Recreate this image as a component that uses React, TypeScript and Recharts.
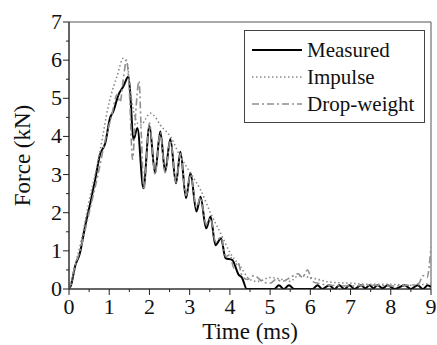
import { LineChart, Line, XAxis, YAxis, ReferenceArea } from "recharts";

// time (ms) / force (kN)
const measuredT = [0, 0.05, 0.15, 0.27, 0.4, 0.52, 0.65, 0.77, 0.9, 1.02, 1.1, 1.23, 1.35, 1.48, 1.53, 1.6, 1.7, 1.85, 2.0, 2.14, 2.27, 2.39, 2.52, 2.66, 2.77, 2.91, 3.02, 3.17, 3.27, 3.41, 3.52, 3.64, 3.78, 3.89, 4.06, 4.22, 4.3, 4.42, 4.8, 5.1, 5.22, 5.34, 5.47, 5.6, 6.05, 6.18, 6.3, 6.47, 6.6, 6.72, 6.85, 6.97, 7.1, 7.26, 7.37, 7.47, 7.57, 7.67, 7.8, 7.92, 8.1, 8.34, 8.5, 8.67, 8.8, 8.92, 9.0];
const measuredF = [0, 0.1, 0.59, 0.94, 1.64, 2.2, 2.86, 3.52, 3.82, 4.48, 4.65, 5.09, 5.31, 5.57, 5.0, 3.91, 4.22, 2.64, 4.28, 3.04, 4.13, 3.08, 3.93, 2.77, 3.6, 2.38, 3.04, 2.03, 2.42, 1.59, 1.9, 1.15, 1.33, 0.81, 0.76, 0.37, 0.3, 0, 0, 0, 0.1, 0, 0.1, 0, 0, 0.1, 0, 0.1, 0, 0.1, 0, 0.1, 0, 0.1, 0.02, 0.1, 0.02, 0.1, 0.02, 0.1, 0, 0.1, 0, 0.1, 0, 0.1, 0.05];

const impulseT = [0.03, 0.15, 0.3, 0.5, 0.75, 1.0, 1.2, 1.35, 1.45, 1.52, 1.6, 1.7, 1.8, 1.9, 2.02, 2.15, 2.27, 2.52, 2.77, 3.02, 3.27, 3.52, 3.77, 4.01, 4.26, 4.51, 4.7, 5.0, 5.3, 5.5, 5.7, 6.0, 6.5, 7.0, 7.5, 8.0, 8.5, 8.8, 9.0];
const impulseF = [0, 0.6, 1.25, 2.3, 3.5, 4.9, 5.6, 6.05, 5.9, 5.22, 4.7, 4.35, 4.3, 4.45, 4.61, 4.5, 4.3, 4.0, 3.47, 3.04, 2.6, 1.99, 1.46, 0.94, 0.59, 0.24, 0.2, 0.3, 0.25, 0.2, 0.35, 0.3, 0.18, 0.15, 0.12, 0.12, 0.1, 0.12, 0.15];

const dropT = [0, 0.15, 0.3, 0.5, 0.7, 0.9, 1.05, 1.2, 1.27, 1.35, 1.43, 1.5, 1.58, 1.65, 1.74, 1.8, 1.86, 2.0, 2.14, 2.27, 2.39, 2.52, 2.66, 2.77, 2.91, 3.02, 3.17, 3.27, 3.41, 3.52, 3.64, 3.78, 3.9, 4.0, 4.1, 4.2, 4.3, 4.43, 4.6, 4.8, 5.0, 5.15, 5.3, 5.5, 5.7, 5.8, 5.93, 6.05, 6.2, 6.5, 7.0, 7.5, 8.0, 8.5, 8.7, 8.8, 8.9, 9.0];
const dropF = [0, 0.6, 1.1, 2.0, 2.9, 3.9, 4.5, 5.1, 4.9, 5.5, 6.0, 5.2, 3.4, 4.5, 5.45, 4.0, 2.6, 4.35, 3.0, 4.1, 3.05, 3.9, 2.8, 3.55, 2.45, 3.0, 2.15, 2.4, 1.7, 1.85, 1.25, 1.35, 0.85, 0.9, 0.55, 0.7, 0.35, 0.25, 0.35, 0.2, 0.15, 0.25, 0.2, 0.3, 0.4, 0.3, 0.5, 0.2, 0.15, 0.1, 0.08, 0.1, 0.08, 0.1, 0.15, 0.35, 0.3, 1.1];

const xTicks = [0, 0.5, 1, 1.5, 2, 2.5, 3, 3.5, 4, 4.5, 5, 5.5, 6, 6.5, 7, 7.5, 8, 8.5, 9];
const yTicks = [0, 0.5, 1, 1.5, 2, 2.5, 3, 3.5, 4, 4.5, 5, 5.5, 6, 6.5, 7];

const toRows = (t: number[], f: number[]) => t.map((v, i) => ({ t: v, f: f[i] }));
const measured = toRows(measuredT, measuredF);
const impulse = toRows(impulseT, impulseF);
const dropWeight = toRows(dropT, dropF);

const FONT = "Liberation Serif, Times New Roman, serif";
const INK = "#222";
const textStyle = { fontFamily: FONT };

const series = [
  { name: "Measured", data: measured, color: "#000", width: 2, dash: undefined as string | undefined },
  { name: "Impulse", data: impulse, color: "#8a8a8a", width: 1.6, dash: "1.5 2.5" },
  { name: "Drop-weight", data: dropWeight, color: "#8f8f8f", width: 1.6, dash: "7 3 2 3" },
];

function XTick(props: any) {
  const { x, y, payload } = props;
  const major = Number.isInteger(payload.value);
  return (
    <g>
      <line x1={x} x2={x} y1={y} y2={y + (major ? 6 : 3)} stroke={INK} />
      {major && (
        <text x={x} y={y + 25} textAnchor="middle" fontSize={22} style={textStyle} fill="#111">
          {payload.value}
        </text>
      )}
    </g>
  );
}

function YTick(props: any) {
  const { x, y, payload } = props;
  const major = Number.isInteger(payload.value);
  return (
    <g>
      <line x1={x} x2={x - (major ? 6 : 3)} y1={y} y2={y} stroke={INK} />
      {major && (
        <text x={x - 7} y={y + 7} textAnchor="end" fontSize={22} style={textStyle} fill="#111">
          {payload.value}
        </text>
      )}
    </g>
  );
}

function LegendBox() {
  return (
    <svg width={181} height={93} style={{ position: "absolute", left: 244, top: 30 }}>
      <rect x={0.5} y={0.5} width={180} height={92} fill="#fff" stroke="#444" />
      {series.map((s, i) => {
        const cy = 20 + i * 27;
        return (
          <g key={s.name}>
            <line x1={8} x2={58} y1={cy} y2={cy} stroke={s.color} strokeWidth={s.width} strokeDasharray={s.dash} />
            <text x={63} y={cy + 7} fontSize={21} style={textStyle} fill="#111">
              {s.name}
            </text>
          </g>
        );
      })}
    </svg>
  );
}

export default function App() {
  return (
    <div style={{ position: "absolute", left: 0, top: 0, width: 437, height: 345, background: "#fff", fontFamily: FONT }}>
      <LineChart width={437} height={345} margin={{ top: 22, right: 6, bottom: 0, left: 0 }}>
        <XAxis
          dataKey="t"
          type="number"
          domain={[0, 9]}
          ticks={xTicks}
          interval={0}
          height={56}
          tickSize={0}
          tickMargin={0}
          tickLine={false}
          tick={<XTick />}
          axisLine={{ stroke: INK }}
          allowDataOverflow
          label={{ value: "Time (ms)", position: "insideBottom", offset: 6, fontSize: 23, fill: "#111", style: textStyle }}
        />
        <YAxis
          dataKey="f"
          type="number"
          domain={[0, 7]}
          ticks={yTicks}
          interval={0}
          width={69}
          tickSize={0}
          tickMargin={0}
          tickLine={false}
          tick={<YTick />}
          axisLine={{ stroke: INK }}
          allowDataOverflow
          label={{ value: "Force (kN)", angle: -90, position: "insideLeft", offset: 22, fontSize: 23, fill: "#111", style: { ...textStyle, textAnchor: "middle" } }}
        />
        <ReferenceArea x1={0} x2={9} y1={0} y2={7} fill="none" stroke="#555" strokeWidth={1} ifOverflow="visible" />
        {series.map((s) => (
          <Line
            key={s.name}
            name={s.name}
            data={s.data}
            dataKey="f"
            type="monotone"
            stroke={s.color}
            strokeWidth={s.width}
            strokeDasharray={s.dash}
            dot={false}
            activeDot={false}
            isAnimationActive={false}
          />
        ))}
      </LineChart>
      <LegendBox />
    </div>
  );
}
